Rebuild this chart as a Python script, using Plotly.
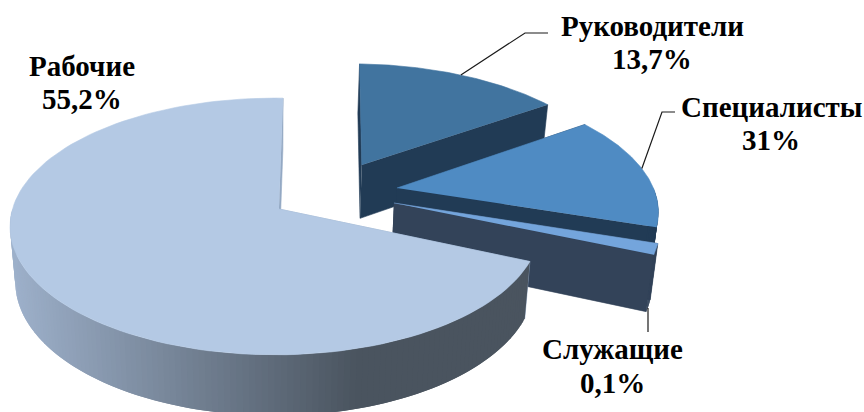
import numpy as np
import plotly.graph_objects as go

# Slices clockwise from the top of the pie
categories = ["Руководители", "Специалисты", "Служащие", "Рабочие"]
drawn_share = [14.85, 14.65, 1.4, 69.1]          # angular share as actually drawn, %
label_percent = ["13,7%", "31%", "0,1%", "55,2%"]  # percentages printed on the labels

FACE = ["#41749f", "#4f8bc3", "#74a5dc", "#b4c9e4"]
WALL = ["#213b55", "#213b55", "#334359", "#94a9c4"]

K, A, B, D = 0.136, 262.5, 126.0, 55.0
AX, AY = 275.0, 209.0
START = 2.0
SHIFT = 0.015
RIM_CENTER = [(0.332 + SHIFT, 0.366), (0.46 + SHIFT, 0.1705), (0.441 + SHIFT, 0.048), (0.0, 0.0)]
APEX = [(0.332 + SHIFT, 0.366), (0.46 + SHIFT, 0.1705), (0.441 + SHIFT, 0.048), (SHIFT, 0.0)]


def project(u, v, low=False):
    u, v = np.asarray(u, float), np.asarray(v, float)
    w = 1 + K * v
    x, y = A * u / w, B * v / w
    if low:
        return AX + 0.98 * x, AY - 0.98 * y + D / w
    return AX + x, AY - y


def rim(i, a):
    r = np.radians(a)
    return RIM_CENTER[i][0] + np.sin(r), RIM_CENTER[i][1] + np.cos(r)


def poly(fig, x, y, color, width=0.6):
    fig.add_trace(go.Scatter(x=list(x), y=list(y), mode="lines", fill="toself",
                             fillcolor=color, line=dict(color=color, width=width),
                             hoverinfo="skip", showlegend=False))


fig = go.Figure()
edges = START + np.cumsum([0] + drawn_share) * 3.6

for i in range(len(categories)):
    a0, a1 = edges[i], edges[i + 1]
    ou, ov = APEX[i]
    # straight cut walls
    for a in (a0, a1):
        cu, cv = rim(i, a)
        tx, ty = project([ou, cu], [ov, cv])
        bx, by = project([cu, ou], [cv, ov], low=True)
        poly(fig, np.r_[tx, bx], np.r_[ty, by], WALL[i])
    # outer wall: only the part turned toward the viewer
    lo, hi = max(a0, 90), min(a1, 270)
    if hi > lo:
        steps = np.linspace(lo, hi, 130 if i == 3 else 12)
        # each strip runs under the next one so no seams show between them
        for n in range(len(steps) - 1):
            seg = np.linspace(steps[n], steps[min(n + 2, len(steps) - 1)], 4)
            u, v = rim(i, seg)
            tx, ty = project(u, v)
            bx, by = project(u[::-1], v[::-1], low=True)
            if i == 3:
                xm = project(*rim(i, (steps[n] + steps[n + 1]) / 2))[0]
                t = min(max((360 - xm) / 350, 0), 1)
                c0, c1 = np.array([74, 84, 95]), np.array([158, 177, 203])
                col = "rgb(%d,%d,%d)" % tuple(c0 + (c1 - c0) * t)
            else:
                col = WALL[i]
            poly(fig, np.r_[tx, bx], np.r_[ty, by], col, width=0)
    # top face
    arc = np.linspace(a0, a1, 120)
    u, v = rim(i, arc)
    fx, fy = project(np.r_[ou, u], np.r_[ov, v])
    poly(fig, fx, fy, FACE[i])


def leader(start, *pts):
    xs = [float(start[0])] + [p[0] for p in pts]
    ys = [float(start[1])] + [p[1] for p in pts]
    fig.add_trace(go.Scatter(x=xs, y=ys, mode="lines", line=dict(color="#1a1a1a", width=1.2),
                             hoverinfo="skip", showlegend=False))


mid = lambda i: (edges[i] + edges[i + 1]) / 2
leader(project(*rim(0, mid(0))), (525, 33), (548, 33))
leader(project(*rim(1, 80.5)), (662, 112), (675, 112))
leader((648, 308), (648, 332))

NAME_POS = [(652, 26), (771, 107), (612, 349), (82, 66)]
PCT_POS = [(652, 59), (771, 140), (612, 383), (82, 99)]
for name, pct, np_, pp in zip(categories, label_percent, NAME_POS, PCT_POS):
    for txt, (lx, ly) in ((name, np_), (pct, pp)):
        fig.add_annotation(x=lx, y=ly, text=f"<b>{txt}</b>", showarrow=False,
                           xanchor="center", yanchor="middle", align="center",
                           font=dict(family="Liberation Serif", size=29, color="#000000"))

fig.update_layout(width=864, height=412, margin=dict(l=0, r=0, t=0, b=0),
                  paper_bgcolor="white", plot_bgcolor="white",
                  xaxis=dict(range=[0, 864], visible=False, fixedrange=True),
                  yaxis=dict(range=[412, 0], visible=False, fixedrange=True))
fig.write_html("out.html", config=dict(displayModeBar=False),
               post_script="document.body.style.margin='0';document.body.style.overflow='hidden';")
